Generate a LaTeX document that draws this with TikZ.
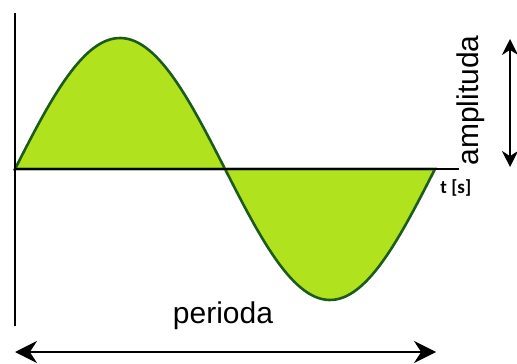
\documentclass[tikz,border=0pt]{standalone}
\usepackage{fontspec}
\setmainfont{Liberation Sans}
\newfontfamily\labelfont{Carlito}
\usetikzlibrary{arrows.meta}
\definecolor{wavefill}{RGB}{176,226,30}
\definecolor{waveline}{RGB}{28,92,24}
\tikzset{
  axisline/.style={line width=1.4pt},
  dimarrow/.style={line width=1pt,{Stealth[length=#1,width=#1]}-{Stealth[length=#1,width=#1]}},
  bigtext/.style={font=\fontsize{15}{18}\selectfont,inner sep=0pt}
}

\begin{document}
\begin{tikzpicture}[x=0.5pt,y=0.5pt]
	\useasboundingbox (0,0) rectangle (517,363);
	% wave, one period
	\filldraw[fill=wavefill,draw=waveline,line width=1.3pt] plot[domain=0:360,samples=120] ({15+\x*7/6},{194+131*sin(\x)}) -- cycle;
	% axes
	\coordinate (o) at (15,194);
	\coordinate (top) at (15,350);
	\coordinate (bottom) at (15,37);
	\coordinate (tend) at (459,194);
	\draw[axisline] (bottom) -- (top);
	\draw[axisline] (o) -- (tend);
	\node[font=\labelfont\bfseries\fontsize{9.5}{11}\selectfont,anchor=north west,inner sep=0pt] (tlabel) at (440,184) {t [s]};
	% amplitude
	\coordinate (amptop) at (510,324);
	\coordinate (ampbot) at (510,196);
	\draw[dimarrow=8pt] (ampbot) -- (amptop);
	\node[bigtext,rotate=90,anchor=base west] (amplabel) at (478,197) {amplituda};
	% period
	\coordinate (perleft) at (15,11);
	\coordinate (perright) at (436,11);
	\draw[dimarrow=11pt] (perleft) -- (perright);
	\node[bigtext,anchor=base] (perlabel) at (223,40) {perioda};
\end{tikzpicture}
\end{document}
